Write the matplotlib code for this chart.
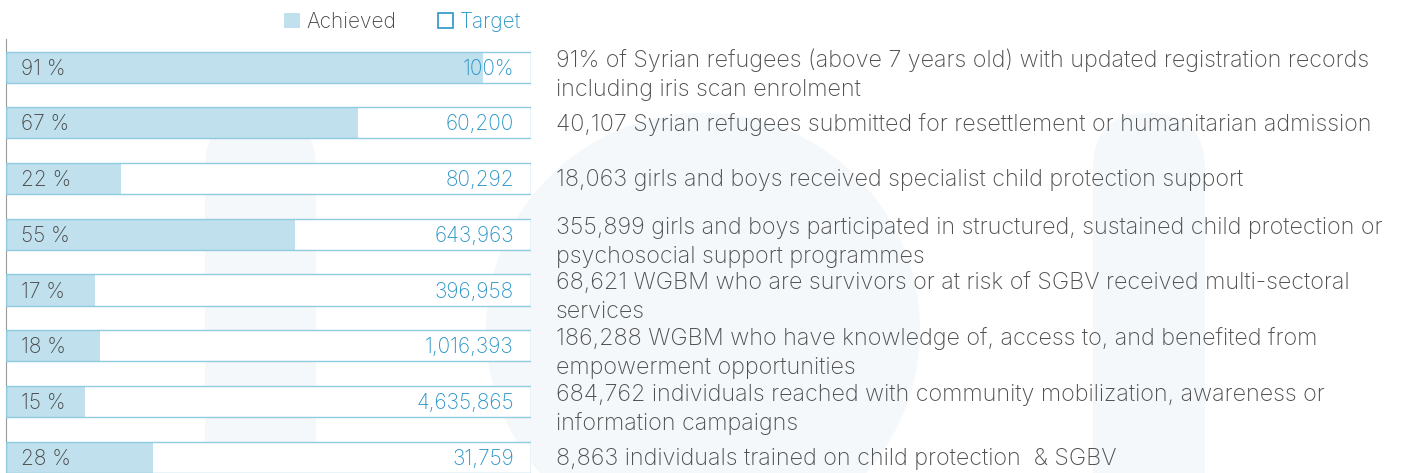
import matplotlib
matplotlib.use("Agg")
import matplotlib.pyplot as plt
from matplotlib.patches import Patch, Circle, FancyBboxPatch

# data
achieved_pct = [91, 67, 22, 55, 17, 18, 15, 28]
target_labels = ["100%", "60,200", "80,292", "643,963", "396,958",
                 "1,016,393", "4,635,865", "31,759"]
descriptions = [
    "91% of Syrian refugees (above 7 years old) with updated registration records\nincluding iris scan enrolment",
    "40,107 Syrian refugees submitted for resettlement or humanitarian admission",
    "18,063 girls and boys received specialist child protection support",
    "355,899 girls and boys participated in structured, sustained child protection or\npsychosocial support programmes",
    "68,621 WGBM who are survivors or at risk of SGBV received multi-sectoral\nservices",
    "186,288 WGBM who have knowledge of, access to, and benefited from\nempowerment opportunities",
    "684,762 individuals reached with community mobilization, awareness or\ninformation campaigns",
    "8,863 individuals trained on child protection  & SGBV",
]

FILL = "#bfe0ec"
EDGE = "#8fcbe1"
BLUE = "#2a95c8"
GREY = "#474747"
TXT = "#4f4f4f"
WM = "#f5f8fb"
FONT = "Inter"
WT = "light"
FS = 15
FS_DESC = 16.8

W, H = 1413, 473
fig = plt.figure(figsize=(W / 100, H / 100), dpi=100)

# faint watermark in the background
bg = fig.add_axes([0, 0, 1, 1], zorder=-5)
bg.set_xlim(0, W)
bg.set_ylim(H, 0)
bg.axis("off")
bg.add_patch(Circle((703, 330), 217, color=WM, lw=0))
bg.add_patch(FancyBboxPatch((205, 113), 111, 420, boxstyle="round,pad=0,rounding_size=55",
                            color=WM, lw=0))
bg.add_patch(FancyBboxPatch((1093, 113), 112, 420, boxstyle="round,pad=0,rounding_size=56",
                            color=WM, lw=0))

ax = fig.add_axes([6 / W, 0, (530.7 - 6) / W, (H - 39) / H])
ax.patch.set_alpha(0)
rows = list(range(len(achieved_pct)))
ax.set_xlim(0, 100)
ax.set_ylim(7.285, -0.506)
bh = 0.557

ax.barh(rows, [100] * len(rows), height=bh, color="white", lw=0, zorder=1)
ax.barh(rows, achieved_pct, height=bh, color=FILL, lw=0, zorder=2)
ax.barh(rows, [100] * len(rows), height=bh, facecolor="none", edgecolor=EDGE, lw=1.0, zorder=3)

for i, (p, t, d) in enumerate(zip(achieved_pct, target_labels, descriptions)):
    ax.text(2.86, i + 0.135, f"{p} %", ha="left", va="baseline", color=GREY,
            fontsize=FS, family=FONT, fontweight=WT, zorder=4)
    ax.text(96.8, i + 0.135, t, ha="right", va="baseline", color=BLUE,
            fontsize=FS, family=FONT, fontweight=WT, zorder=4)
    lines = d.split("\n")
    for j, line in enumerate(lines):
        y = i + 0.14 if len(lines) == 1 else i - 0.01 + 0.52 * j
        ax.text(104.8, y, line, ha="left", va="baseline", color=TXT,
                fontsize=FS_DESC, family=FONT, fontweight=WT, clip_on=False)

for s in ["top", "right", "bottom"]:
    ax.spines[s].set_visible(False)
ax.spines["left"].set_color("#9a9a9a")
ax.spines["left"].set_linewidth(0.8)
ax.set_xticks([])
ax.set_yticks([])

handles = [Patch(facecolor=FILL, edgecolor="none"),
           Patch(facecolor="white", edgecolor=BLUE, lw=1.2)]
fig.legend(handles, ["Achieved", "Target"], ncol=2, loc="center",
           bbox_to_anchor=(402.5 / W, 1 - 22 / H), frameon=False,
           handlelength=0.75, handleheight=0.75, handletextpad=0.3,
           columnspacing=2.0, borderpad=0, labelcolor=[GREY, BLUE],
           prop={"family": FONT, "size": FS, "weight": WT})

fig.savefig("out.png", dpi=100)
